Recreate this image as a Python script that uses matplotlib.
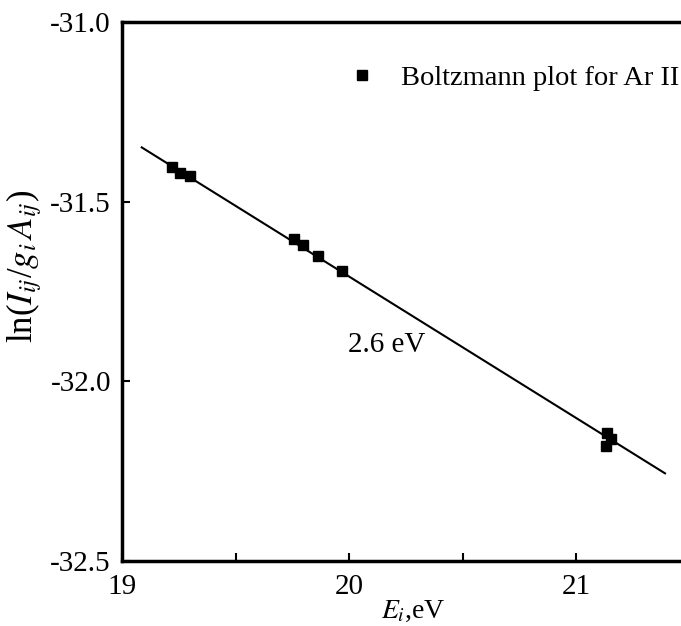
import matplotlib
matplotlib.use("Agg")
import matplotlib.pyplot as plt
from matplotlib.ticker import MultipleLocator

# Data
energy_eV = [19.219, 19.255, 19.300, 19.759, 19.799, 19.865, 19.970, 21.135, 21.154, 21.132]
ln_ratio = [-31.404, -31.421, -31.429, -31.605, -31.621, -31.651, -31.693, -32.145, -32.160, -32.180]
fit_x = [19.087, 21.392]
fit_y = [-31.349, -32.256]
x_ticks = [19, 20, 21]
y_ticks = [-31.0, -31.5, -32.0, -32.5]
temp_label = "2.6 eV"
legend_label = "Boltzmann plot for Ar II"

plt.rcParams['font.family'] = ['Liberation Serif', 'DejaVu Serif']
plt.rcParams['mathtext.fontset'] = 'stix'

W, H = 681, 626
fig = plt.figure(figsize=(W / 100, H / 100), dpi=100)
left, right, top, bottom = 122, 689.5, 22, 561
ax = fig.add_axes([left / W, 1 - bottom / H, (right - left) / W, (bottom - top) / H])

ax.plot(fit_x, fit_y, color='black', lw=1.5, zorder=2)
pts, = ax.plot(energy_eV, ln_ratio, linestyle='none', marker='s', color='black',
               markersize=7.2, zorder=3, label=legend_label)

ax.set_xlim(19, 21.5)
ax.set_ylim(-32.5, -31.0)
ax.set_xticks(x_ticks)
ax.set_xticklabels([str(v) for v in x_ticks])
ax.xaxis.set_minor_locator(MultipleLocator(0.5))
ax.set_yticks(y_ticks)
ax.set_yticklabels([f"{v:.1f}" for v in y_ticks])

for s in ax.spines.values():
    s.set_linewidth(2.5)
ax.tick_params(axis='both', which='both', direction='in', width=1.5, length=6,
               labelsize=21, top=False, right=False)
ax.tick_params(axis='x', which='both', pad=9)
ax.tick_params(axis='y', which='both', pad=8)

ax.set_xlabel(r'$E_i$,eV', fontsize=20, labelpad=-2)
ax.xaxis.set_label_coords((413 - left) / (right - left), -0.07)
ax.set_ylabel(r'ln($I_{ij}$/$g_i\,A_{ij}$)', fontsize=25)
ax.yaxis.set_label_coords((44 - left) / (right - left), (561 - 266) / (561 - 22))

ax.text(19.996, -31.918, temp_label, fontsize=21, ha='left', va='baseline')

fig.legend(handles=[pts], labels=[legend_label], loc='center left',
           bbox_to_anchor=(348 / W, 1 - 78 / H), bbox_transform=fig.transFigure,
           frameon=False, fontsize=20.5, handlelength=1.0, handletextpad=0.86,
           borderpad=0, borderaxespad=0)

fig.savefig('out.png', dpi=100)
